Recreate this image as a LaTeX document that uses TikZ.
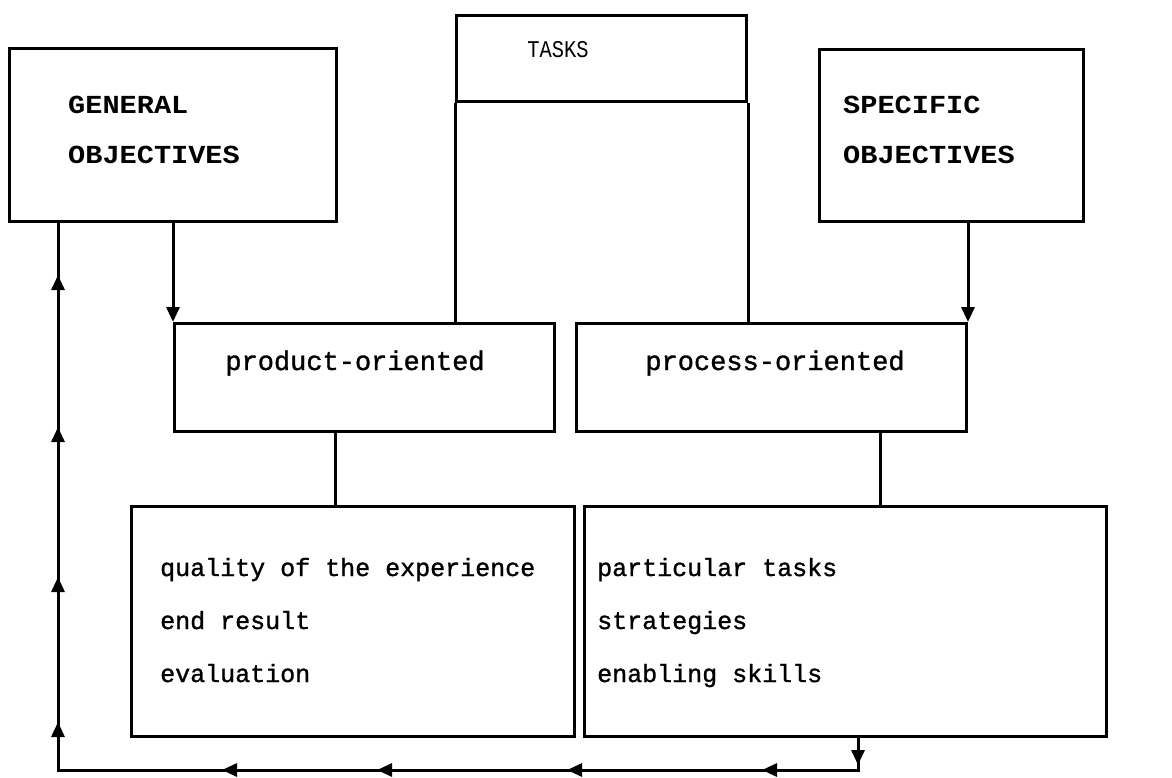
\documentclass[tikz,border=0pt]{standalone}
\usepackage{fontspec}
\newfontfamily\twfont[FakeBold=1.2]{Liberation Mono}
\newfontfamily\capfont[FakeStretch=1.1]{Liberation Mono}
\newfontfamily\taskfont[FakeStretch=0.85]{Liberation Mono}
\usetikzlibrary{arrows.meta,decorations.markings}
\tikzset{
  box/.style={draw, line width=3pt, inner sep=0pt, anchor=north west},
  conn/.style={line width=3pt},
  tip/.style={},
  arr/.style={line width=3pt, -{Triangle[length=15pt,width=13pt]}},
  captxt/.style={anchor=base west, inner sep=0pt, font=\capfont\bfseries\fontsize{26}{26}\selectfont},
  tasktxt/.style={anchor=base, inner sep=0pt, font=\taskfont\fontsize{24}{24}\selectfont},
  midtxt/.style={anchor=base, inner sep=0pt, font=\twfont\fontsize{27}{27}\selectfont},
  lowtxt/.style={anchor=base west, inner sep=0pt, font=\twfont\fontsize{25}{25}\selectfont},
  loopmarks/.style={postaction={decorate}, decoration={markings,
    mark=at position 27pt with {\arrow{Triangle[length=15pt,width=13pt]}},
    mark=at position 128pt with {\arrow{Triangle[length=15pt,width=13pt]}},
    mark=at position 323pt with {\arrow{Triangle[length=15pt,width=13pt]}},
    mark=at position 513pt with {\arrow{Triangle[length=15pt,width=13pt]}},
    mark=at position 668pt with {\arrow{Triangle[length=15pt,width=13pt]}},
    mark=at position 880pt with {\arrow{Triangle[length=15pt,width=13pt]}},
    mark=at position 1025pt with {\arrow{Triangle[length=15pt,width=13pt]}},
    mark=at position 1175pt with {\arrow{Triangle[length=15pt,width=13pt]}},
    mark=at position 1327pt with {\arrow{Triangle[length=15pt,width=13pt]}}}}
}
\begin{document}
\begin{tikzpicture}[x=1pt,y=-1pt]
\useasboundingbox (0,0) rectangle (1172,777);
% boxes
\node[box, minimum width=327pt, minimum height=173pt] (gen) at (8,47) {};
\node[box, minimum width=290pt, minimum height=86pt] (tasks) at (455,14) {};
\node[box, minimum width=264pt, minimum height=172pt] (spec) at (818,48) {};
\node[box, minimum width=380pt, minimum height=108pt] (prod) at (173,322) {};
\node[box, minimum width=390pt, minimum height=108pt] (proc) at (575,322) {};
\node[box, minimum width=443pt, minimum height=230pt] (qual) at (130,505) {};
\node[box, minimum width=522pt, minimum height=230pt] (part) at (583,505) {};
% texts
\node[captxt] (t1) at (68,113) {GENERAL};
\node[captxt] (t2) at (68,163) {OBJECTIVES};
\node[tasktxt] (t3) at (558,57) {TASKS};
\node[captxt] (t4) at (843,113) {SPECIFIC};
\node[captxt] (t5) at (843,163) {OBJECTIVES};
\node[midtxt] (t6) at (355,370) {product-oriented};
\node[midtxt] (t7) at (775,370) {process-oriented};
\node[lowtxt] (t8) at (160,576) {quality of the experience};
\node[lowtxt] (t9) at (160,629) {end result};
\node[lowtxt] (t10) at (160,682) {evaluation};
\node[lowtxt] (t11) at (597,576) {particular tasks};
\node[lowtxt] (t12) at (597,629) {strategies};
\node[lowtxt] (t13) at (597,682) {enabling skills};
% connectors
\draw[conn] (tasks.south west) -- (tasks.south west |- prod.north);
\draw[conn] (tasks.south east) -- (tasks.south east |- proc.north);
\draw[arr] (prod.north west |- gen.south) -- (prod.north west);
\draw[arr] (proc.north east |- spec.south) -- (proc.north east);
\draw[conn] (335,0 |- prod.south) -- (335,0 |- qual.north);
\draw[conn] (880,0 |- proc.south) -- (880,0 |- part.north);
\coordinate (c1) at (858,770);
\coordinate (c2) at (58,770);
\draw[conn, loopmarks] (858,0 |- part.south) -- (c1) -- (c2) -- (58,0 |- gen.south);
\end{tikzpicture}
\end{document}
